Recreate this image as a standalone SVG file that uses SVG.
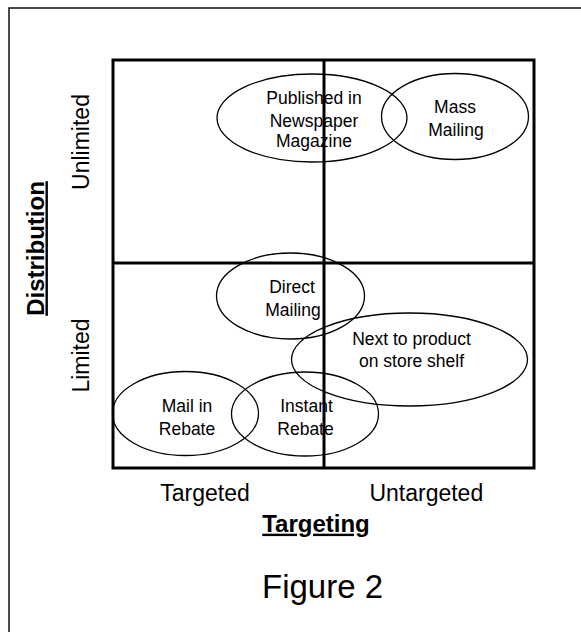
<svg xmlns="http://www.w3.org/2000/svg" width="581" height="632" viewBox="0 0 581 632">
<style>
.frame{fill:none;stroke:#111;stroke-width:1.5}
.grid{fill:none;stroke:#000;stroke-width:3}
.ell{fill:none;stroke:#000;stroke-width:1.3}
.lbl{font-family:"Liberation Sans",Arial,sans-serif;font-size:17.5px;fill:#000;text-anchor:middle}
.ax{font-family:"Liberation Sans",Arial,sans-serif;font-size:23px;fill:#000;text-anchor:middle}
.axb{font-family:"Liberation Sans",Arial,sans-serif;font-size:24px;font-weight:bold;fill:#000;text-anchor:middle;text-decoration:underline}
.fig{font-family:"Liberation Sans",Arial,sans-serif;font-size:33px;fill:#000;text-anchor:middle}
</style>
<rect width="581" height="632" fill="#fff"/>
<rect class="frame" x="9" y="8" width="600" height="640"/>
<g id="grid">
<rect class="grid" x="113" y="60" width="421" height="408"/>
<line class="grid" x1="324" y1="60" x2="324" y2="468"/>
<line class="grid" x1="113" y1="263" x2="534" y2="263"/>
</g>
<g id="published">
<ellipse class="ell" cx="312" cy="118" rx="95" ry="44"/>
<text class="lbl" x="314" y="104">Published in</text>
<text class="lbl" x="314" y="126.5">Newspaper</text>
<text class="lbl" x="314" y="146.5">Magazine</text>
</g>
<g id="mass">
<ellipse class="ell" cx="455" cy="116.5" rx="73.5" ry="43"/>
<text class="lbl" x="455" y="113.3">Mass</text>
<text class="lbl" x="456" y="135.5">Mailing</text>
</g>
<g id="direct">
<ellipse class="ell" cx="290.5" cy="296" rx="74" ry="43"/>
<text class="lbl" x="292" y="293.3">Direct</text>
<text class="lbl" x="293" y="315.5">Mailing</text>
</g>
<g id="shelf">
<ellipse class="ell" cx="409.5" cy="359.5" rx="118" ry="46.5"/>
<text class="lbl" x="411.5" y="344.5">Next to product</text>
<text class="lbl" x="411.5" y="366.5">on store shelf</text>
</g>
<g id="mailin">
<ellipse class="ell" cx="185.5" cy="413.5" rx="73" ry="42"/>
<text class="lbl" x="187" y="411.7">Mail in</text>
<text class="lbl" x="187" y="434.5">Rebate</text>
</g>
<g id="instant">
<ellipse class="ell" cx="305" cy="414" rx="73.5" ry="42"/>
<text class="lbl" x="306.5" y="411.7">Instant</text>
<text class="lbl" x="305.5" y="434.5">Rebate</text>
</g>
<g id="axes">
<text class="ax" transform="translate(88.5,142) rotate(-90)">Unlimited</text>
<text class="ax" transform="translate(88.5,355.5) rotate(-90)">Limited</text>
<text class="axb" transform="translate(43.5,248.5) rotate(-90)">Distribution</text>
<text class="ax" x="205" y="500.7">Targeted</text>
<text class="ax" x="426.3" y="500.7">Untargeted</text>
<text class="axb" x="316" y="531.7">Targeting</text>
<text class="fig" x="322.5" y="598">Figure 2</text>
</g>
</svg>
